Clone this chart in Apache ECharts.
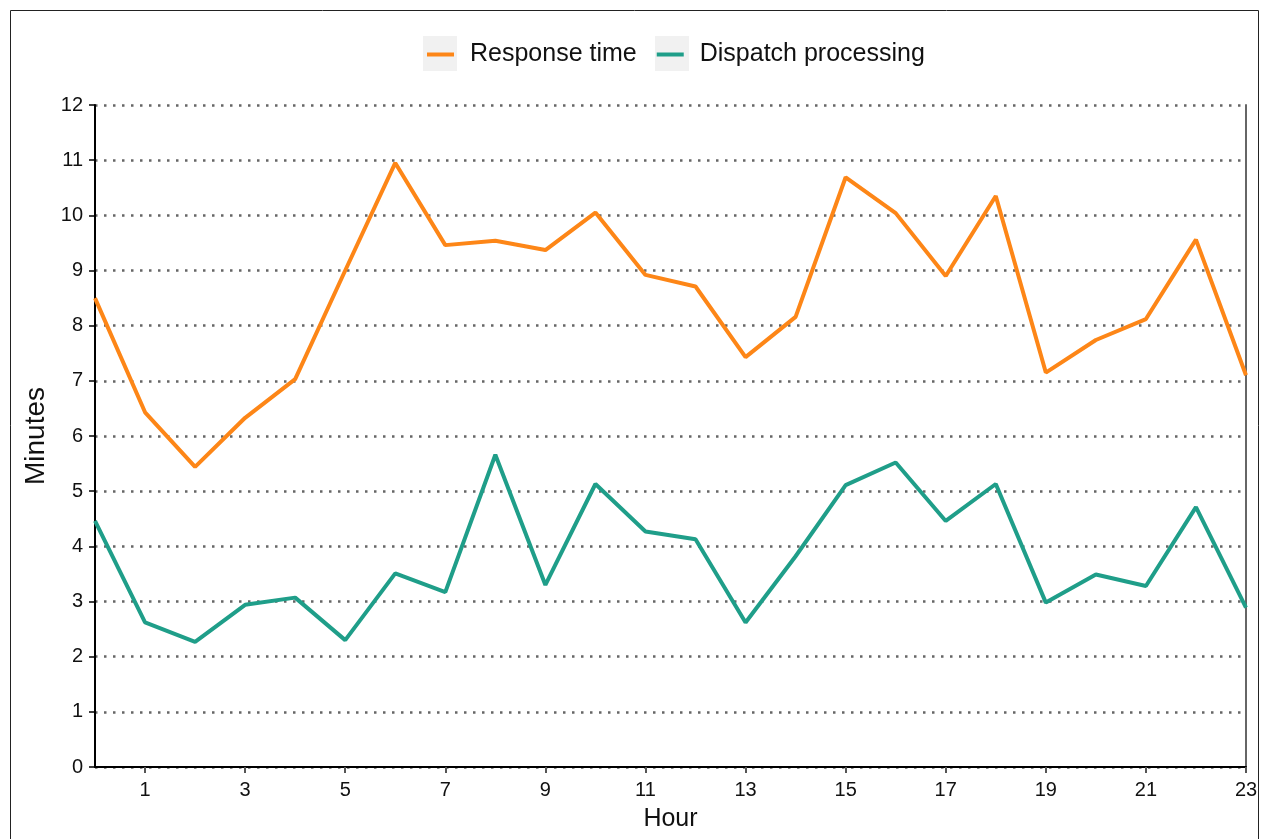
<!DOCTYPE html>
<html>
<head>
<meta charset="utf-8">
<script src="https://cdn.jsdelivr.net/npm/echarts@6/dist/echarts.min.js"></script>
<style>
  html, body { margin: 0; padding: 0; background: #fff; }
  #chart { width: 1266px; height: 839px; }
</style>
</head>
<body>
<div id="chart"></div>
<script>
// hours 0..23
var hours = [];
for (var h = 0; h < 24; h++) hours.push(String(h));

var responseTime = [8.50, 6.43, 5.44, 6.33, 7.03, 9.00, 10.95, 9.46, 9.54, 9.37, 10.05, 8.92,
                    8.71, 7.43, 8.16, 10.69, 10.04, 8.90, 10.35, 7.15, 7.74, 8.12, 9.56, 7.10];
var dispatchProcessing = [4.46, 2.62, 2.27, 2.94, 3.07, 2.30, 3.51, 3.17, 5.66, 3.30, 5.13, 4.27,
                          4.13, 2.62, 3.82, 5.11, 5.52, 4.46, 5.13, 2.98, 3.49, 3.28, 4.71, 2.89];

var font = "'Liberation Sans', Arial, sans-serif";
var oddOnly = function (i) { return i % 2 === 1; };

var chart = echarts.init(document.getElementById("chart"));
chart.setOption({
  animation: false,
  textStyle: { fontFamily: font },
  graphic: [
    // outer frame
    { type: "rect", shape: { x: 10.5, y: 10.5, width: 1248, height: 840 },
      style: { fill: "none", stroke: "#222", lineWidth: 1 }, silent: true },
    // grey squares behind the legend keys
    { type: "rect", shape: { x: 423, y: 36, width: 34, height: 35 },
      style: { fill: "#f1f1f1" }, z: -1, silent: true },
    { type: "rect", shape: { x: 655, y: 36, width: 34, height: 35 },
      style: { fill: "#f1f1f1" }, z: -1, silent: true }
  ],
  legend: {
    data: ["Response time", "Dispatch processing"],
    left: 427,
    top: 42,
    padding: 0,
    icon: "rect",
    itemWidth: 27,
    itemHeight: 4,
    itemGap: 20,
    textStyle: { fontSize: 25, color: "#111", fontFamily: font, padding: [0, 0, 0, 11] }
  },
  grid: { left: 95, right: 20, top: 105, bottom: 72 },
  xAxis: [
    {
      type: "category",
      data: hours,
      boundaryGap: false,
      name: "Hour",
      nameLocation: "middle",
      nameGap: 40,
      nameTextStyle: { fontSize: 25, color: "#111" },
      axisLine: { lineStyle: { color: "#000", width: 2 } },
      axisTick: { interval: oddOnly, length: 6, lineStyle: { color: "#555", width: 2 } },
      axisLabel: { interval: oddOnly, fontSize: 20, color: "#111", margin: 13 },
      splitLine: { show: false }
    },
    {
      type: "category",
      data: hours,
      boundaryGap: false,
      position: "top",
      axisLine: { show: true, lineStyle: { color: "#000", width: 1, type: [5, 2] } },
      axisTick: { show: false },
      axisLabel: { show: false },
      splitLine: { show: false }
    }
  ],
  yAxis: [
    {
      type: "value",
      min: 0,
      max: 12,
      interval: 1,
      name: "Minutes",
      nameLocation: "middle",
      nameGap: 44,
      nameTextStyle: { fontSize: 28, color: "#111" },
      axisLine: { show: true, lineStyle: { color: "#000", width: 2 } },
      axisTick: { show: true, length: 6, lineStyle: { color: "#000", width: 1.5 } },
      axisLabel: { fontSize: 20, color: "#111", margin: 12 },
      splitLine: { show: true, lineStyle: { color: "#666", width: 2.5, type: [2.5, 6.5] } }
    },
    {
      type: "value",
      min: 0,
      max: 12,
      interval: 1,
      position: "right",
      axisLine: { show: true, lineStyle: { color: "#666", width: 2 } },
      axisTick: { show: false },
      axisLabel: { show: false },
      splitLine: { show: false }
    }
  ],
  series: [
    {
      name: "Response time",
      type: "line",
      data: responseTime,
      symbol: "none",
      lineStyle: { color: "#fd8617", width: 4 },
      itemStyle: { color: "#fd8617" }
    },
    {
      name: "Dispatch processing",
      type: "line",
      data: dispatchProcessing,
      symbol: "none",
      lineStyle: { color: "#1f9e89", width: 4 },
      itemStyle: { color: "#1f9e89" }
    }
  ]
});
</script>
</body>
</html>
